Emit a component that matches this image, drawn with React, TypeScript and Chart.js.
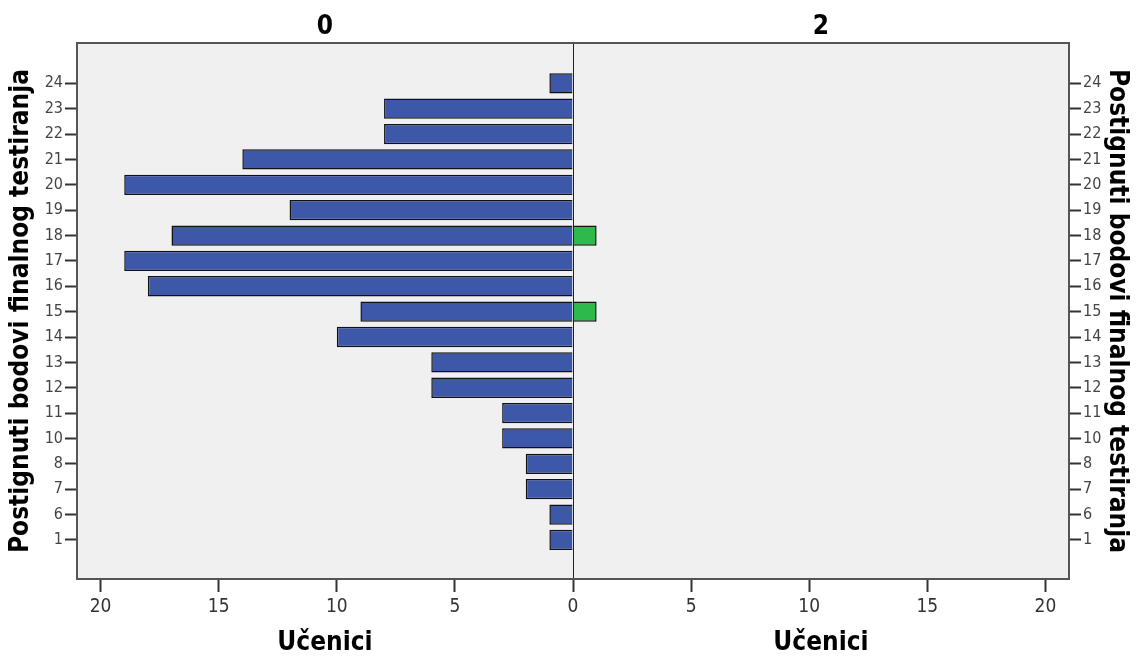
import React, { useEffect, useRef } from 'react';
import { Chart, registerables } from 'chart.js';

Chart.register(...registerables);

const categories = ['24', '23', '22', '21', '20', '19', '18', '17', '16', '15', '14', '13', '12', '11', '10', '8', '7', '6', '1'];
const group0Counts = [1, 8, 8, 14, 19, 12, 17, 19, 18, 9, 10, 6, 6, 3, 3, 2, 2, 1, 1];
const group2Counts = [0, 0, 0, 0, 0, 0, 1, 0, 0, 1, 0, 0, 0, 0, 0, 0, 0, 0, 0];
const panelLabels = ['0', '2'];
const xAxisTitle = 'Učenici';
const yAxisTitle = 'Postignuti bodovi finalnog testiranja';
const xTickValues = [-20, -15, -10, -5, 0, 5, 10, 15, 20];

const FONT = "'DejaVu Sans Condensed', 'DejaVu Sans', sans-serif";

const panelPlugin = {
  id: 'panelPlugin',
  beforeDraw(chart: any) {
    const { ctx, chartArea: a } = chart;
    ctx.save();
    ctx.fillStyle = '#f0f0f0';
    ctx.fillRect(a.left, a.top, a.right - a.left, a.bottom - a.top);
    ctx.restore();
  },
  afterDatasetsDraw(chart: any) {
    const { ctx, chartArea: a } = chart;
    const x0 = Math.round(chart.scales.x.getPixelForValue(0)) + 0.5;
    ctx.save();
    ctx.strokeStyle = '#222';
    ctx.lineWidth = 1;
    ctx.beginPath();
    ctx.moveTo(x0, a.top);
    ctx.lineTo(x0, a.bottom);
    ctx.stroke();
    ctx.strokeStyle = '#555';
    ctx.lineWidth = 2;
    ctx.strokeRect(a.left, a.top, a.right - a.left, a.bottom - a.top);
    ctx.restore();
  },
  afterDraw(chart: any) {
    const { ctx, chartArea: a } = chart;
    const x0 = chart.scales.x.getPixelForValue(0);
    const centers = [(a.left + x0) / 2, (x0 + a.right) / 2];
    ctx.save();
    ctx.fillStyle = '#000';
    ctx.textAlign = 'center';
    ctx.textBaseline = 'middle';
    ctx.font = `bold 26px ${FONT}`;
    centers.forEach((cx, i) => {
      ctx.fillText(panelLabels[i], cx, a.top - 16);
      ctx.fillText(xAxisTitle, cx, a.bottom + 64);
    });
    ctx.restore();
  },
};

const yTicks = (scale: any) => {
  scale.ticks = categories.map((_, i) => ({ value: i }));
};

export default function App() {
  const ref = useRef<HTMLCanvasElement | null>(null);

  useEffect(() => {
    if (!ref.current) return;
    const blueData = group0Counts.map((v, i) => ({ x: -v, y: i })).filter((d) => d.x !== 0);
    const greenData = group2Counts.map((v, i) => ({ x: v, y: i })).filter((d) => d.x !== 0);

    const yAxisCommon = (position: 'left' | 'right', width: number) => ({
      type: 'linear' as const,
      position,
      reverse: true,
      offset: false,
      min: -1.59,
      max: 19.54,
      afterBuildTicks: yTicks,
      afterFit: (s: any) => {
        s.width = width;
      },
      grid: {
        offset: false,
        drawOnChartArea: false,
        drawTicks: true,
        tickLength: 12,
        tickWidth: 2,
        tickColor: '#333',
      },
      border: { display: true, color: '#333', width: 2 },
      ticks: {
        padding: 2,
        color: '#444',
        font: { family: FONT, size: 16 },
        callback: (v: any) => categories[v] ?? '',
      },
      title: {
        display: true,
        text: yAxisTitle,
        color: '#000',
        font: { family: FONT, size: 26, weight: 'bold' as const },
        padding: { top: 6, bottom: 0 },
      },
    });

    const chart = new Chart(ref.current, {
      type: 'bar',
      data: {
        datasets: [
          {
            label: panelLabels[0],
            data: blueData as any,
            backgroundColor: '#3D57A9',
            borderColor: '#111',
            borderWidth: 1.5,
            grouped: false,
            barPercentage: 0.8,
            categoryPercentage: 1,
          },
          {
            label: panelLabels[1],
            data: greenData as any,
            backgroundColor: '#2DB94B',
            borderColor: '#111',
            borderWidth: 1.5,
            grouped: false,
            barPercentage: 0.8,
            categoryPercentage: 1,
          },
        ],
      },
      options: {
        indexAxis: 'y',
        responsive: false,
        animation: false,
        layout: { padding: { top: 43, left: 0, right: 0, bottom: 0 } },
        plugins: {
          legend: { display: false },
          tooltip: { enabled: false },
          title: { display: false },
        },
        scales: {
          x: {
            type: 'linear',
            min: -21,
            max: 21,
            afterBuildTicks: (s: any) => {
              s.ticks = xTickValues.map((v) => ({ value: v }));
            },
            afterFit: (s: any) => {
              s.height = 78;
            },
            grid: {
              drawOnChartArea: false,
              drawTicks: true,
              tickLength: 13,
              tickWidth: 2,
              tickColor: '#333',
            },
            border: { display: true, color: '#333', width: 2 },
            ticks: {
              padding: 4,
              color: '#333',
              maxRotation: 0,
              font: { family: FONT, size: 19 },
              callback: (v: any) => String(Math.abs(Number(v))),
            },
          },
          y: yAxisCommon('left', 77) as any,
          y2: yAxisCommon('right', 69) as any,
        },
      },
      plugins: [panelPlugin],
    });
    return () => chart.destroy();
  }, []);

  return (
    <div style={{ position: 'absolute', left: 0, top: 0, width: 1138, height: 657, background: '#fff' }}>
      <canvas ref={ref} width={1138} height={657} style={{ display: 'block' }} />
    </div>
  );
}
